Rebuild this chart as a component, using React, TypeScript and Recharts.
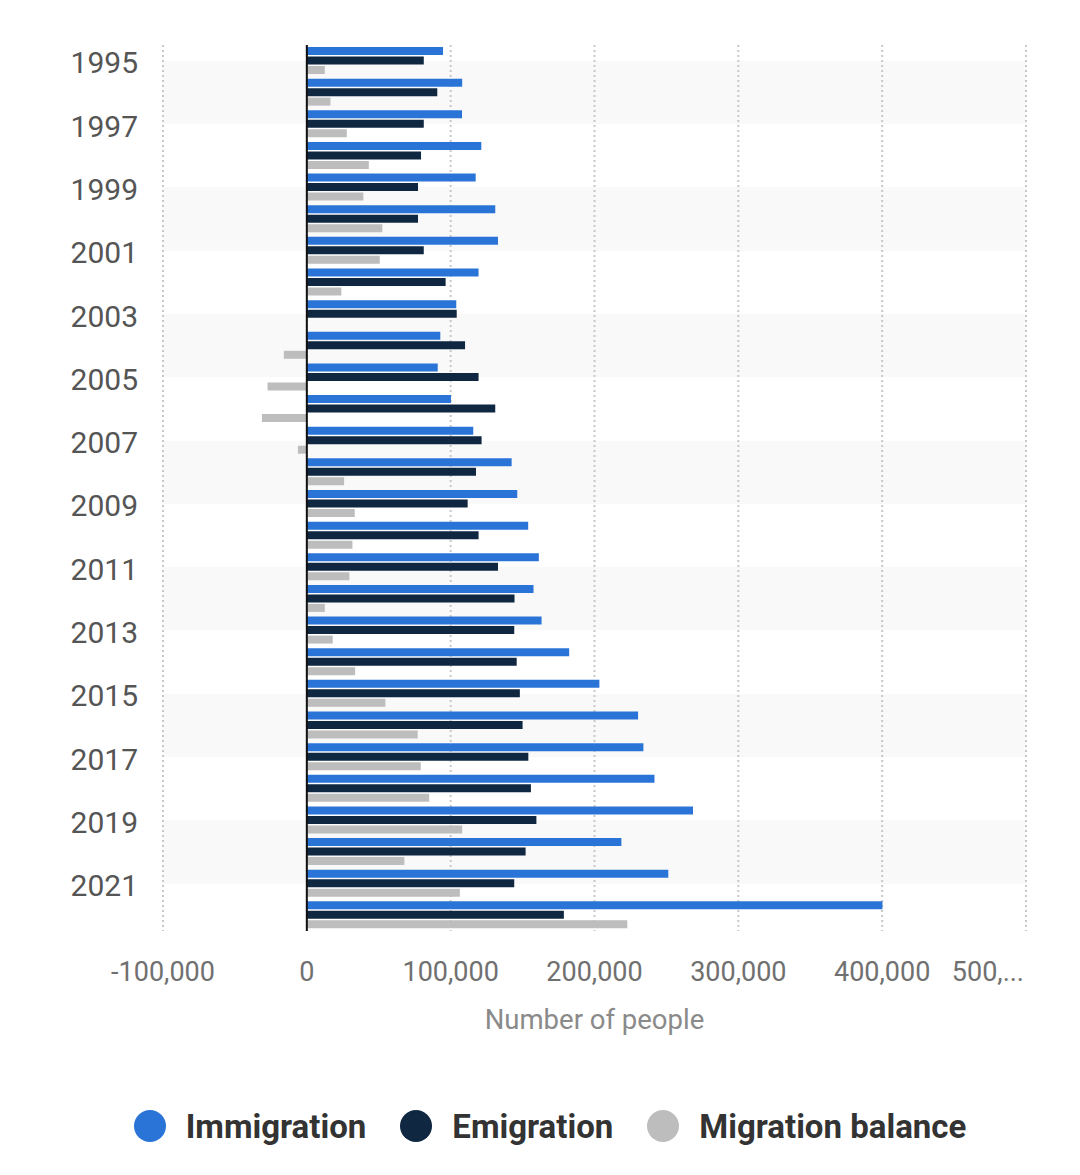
import {
  BarChart,
  Bar,
  XAxis,
  YAxis,
  CartesianGrid,
  ReferenceLine,
  Legend,
} from "recharts";

// Migration figures, 1995-2022.
const YEARS = [
  "1995", "1996", "1997", "1998", "1999", "2000", "2001", "2002", "2003", "2004",
  "2005", "2006", "2007", "2008", "2009", "2010", "2011", "2012", "2013", "2014",
  "2015", "2016", "2017", "2018", "2019", "2020", "2021", "2022",
];
const IMMIGRATION = [
  94700, 108000, 107900, 121300, 117400, 131000, 132900, 119400, 103900, 92800,
  91000, 100200, 115700, 142400, 146300, 153900, 161300, 157600, 163200, 182400,
  203400, 230300, 234000, 241700, 268500, 218700, 251300, 400200,
];
const EMIGRATION = [
  81300, 90700, 81300, 79400, 77300, 77300, 81300, 96500, 104200, 110000,
  119400, 131000, 121500, 117600, 111800, 119400, 132900, 144400, 144200, 145900,
  148100, 150000, 154000, 155800, 159600, 152100, 144200, 178700,
];
const BALANCE = [
  12500, 16400, 27800, 43100, 39300, 52500, 50700, 24000, -300, -16000,
  -27300, -31200, -6200, 25900, 33300, 31700, 29600, 12500, 18000, 33600,
  54600, 77100, 79200, 85100, 108000, 67800, 106400, 222800,
];
const X_TICKS = [-100000, 0, 100000, 200000, 300000, 400000, 500000];

const SERIES = [
  { key: "immigration", name: "Immigration", color: "#2a74d8" },
  { key: "emigration", name: "Emigration", color: "#0f2740" },
  { key: "balance", name: "Migration balance", color: "#bdbdbd" },
];

const data = YEARS.map((year, i) => ({
  year,
  immigration: IMMIGRATION[i],
  emigration: EMIGRATION[i],
  balance: BALANCE[i],
}));

const FONT = "Roboto, 'Noto Sans', sans-serif";

function XTick({ x, y, payload }: any) {
  const last = payload.value === X_TICKS[X_TICKS.length - 1];
  const label = last ? "500,..." : Number(payload.value).toLocaleString("en-US");
  return (
    <text
      x={last ? x - 2 : x}
      y={y}
      dy="0.71em"
      textAnchor={last ? "end" : "middle"}
      fill="#707070"
      fontSize={27}
      fontFamily={FONT}
    >
      {label}
    </text>
  );
}

function YTick({ x, y, payload }: any) {
  return (
    <text
      x={x + 2}
      y={y + 2}
      dy="0.355em"
      textAnchor="end"
      fill="#555"
      fontSize={30}
      fontFamily={FONT}
    >
      {payload.value}
    </text>
  );
}

function LegendContent() {
  return (
    <div
      style={{
        display: "flex",
        justifyContent: "center",
        alignItems: "center",
        paddingTop: 70,
        paddingLeft: 74,
        height: 50,
        fontFamily: FONT,
      }}
    >
      {SERIES.map((s) => (
        <div
          key={s.key}
          style={{ display: "flex", alignItems: "center", margin: "0 17px" }}
        >
          <span
            style={{
              width: 32,
              height: 32,
              borderRadius: "50%",
              background: s.color,
              marginRight: 20,
              display: "inline-block",
            }}
          />
          <span style={{ fontSize: 33, fontWeight: 700, color: "#333" }}>
            {s.name}
          </span>
        </div>
      ))}
    </div>
  );
}

export default function App() {
  return (
    <div style={{ position: "absolute", left: 0, top: 0, background: "#fff" }}>
      <BarChart
        width={1080}
        height={1175}
        data={data}
        layout="vertical"
        margin={{ top: 45, right: 54, left: 0, bottom: 24 }}
        barCategoryGap={2}
        barGap={1.5}
      >
        <CartesianGrid
          horizontal={() => <g />}
          stroke="#c8c8c8"
          strokeWidth={2}
          strokeDasharray="2 3"
          horizontalFill={["transparent", "#f9f9f9"]}
        />
        <XAxis
          type="number"
          domain={[-100000, 500000]}
          ticks={X_TICKS}
          axisLine={false}
          tickLine={false}
          tickSize={0}
          tickMargin={31}
          height={100}
          tick={<XTick />}
          label={{
            value: "Number of people",
            position: "insideBottom",
            offset: 2,
            fill: "#8a8a8a",
            fontSize: 27.5,
            fontFamily: FONT,
          }}
        />
        <YAxis
          type="category"
          dataKey="year"
          width={163}
          interval={1}
          axisLine={false}
          tickLine={false}
          tickSize={0}
          tickMargin={27}
          tick={<YTick />}
        />
        <Legend verticalAlign="bottom" content={<LegendContent />} />
        {SERIES.map((s) => (
          <Bar
            key={s.key}
            dataKey={s.key}
            name={s.name}
            fill={s.color}
            isAnimationActive={false}
          />
        ))}
        <ReferenceLine x={0} stroke="#111" strokeWidth={2} />
      </BarChart>
    </div>
  );
}
